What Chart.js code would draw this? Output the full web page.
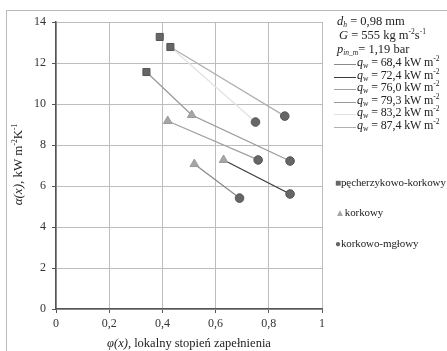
<!DOCTYPE html>
<html>
<head>
<meta charset="utf-8">
<script src="https://cdn.jsdelivr.net/npm/chart.js@4"></script>
<style>
  body { margin: 0; background: #fff; }
  #wrap { position: relative; width: 447px; height: 351px; overflow: hidden; font-family: "Liberation Serif", serif; color: #222; }
  #frame { position: absolute; left: 6px; top: 10px; width: 460px; height: 360px; border-left: 1px solid #bbb; border-top: 1px solid #bbb; }
  canvas { position: absolute; left: 0; top: 0; }
  .t { position: absolute; white-space: nowrap; font-size: 12.5px; line-height: 13px; }
  .q { position: absolute; white-space: nowrap; font-size: 12px; line-height: 12px; letter-spacing: -0.1px; }
  .seg { position: absolute; height: 0; width: 22px; }
  .m { position: absolute; white-space: nowrap; font-size: 11px; line-height: 12px; letter-spacing: -0.1px; }
  sub { font-size: 7.5px; line-height: 0; vertical-align: -2px; }
  sup { font-size: 7.5px; line-height: 0; vertical-align: 5px; }
</style>
</head>
<body>
<div id="wrap">
  <div id="frame"></div>
  <canvas id="myChart" width="447" height="351"></canvas>
  <div id="legend"></div>
  <div class="t" style="left:-45px;top:158px;width:125px;text-align:center;transform:rotate(-90deg);font-size:13px;"><i>α(x)</i>, kW m<sup>-2</sup>K<sup>-1</sup></div>
  <div class="t" style="left:56px;top:337px;width:266px;text-align:center;"><i>φ(x)</i>, lokalny stopień zapełnienia</div>
</div>
<script>
// markers
const phiSquare = [0.39, 0.43, 0.34];
const alphaSquare = [13.27, 12.78, 11.56];
const phiTriangle = [0.51, 0.42, 0.52, 0.63];
const alphaTriangle = [9.46, 9.17, 7.07, 7.27];
const phiCircle = [0.75, 0.86, 0.76, 0.88, 0.69, 0.88];
const alphaCircle = [9.12, 9.41, 7.27, 7.22, 5.41, 5.61];

// heat flux lines
const qLabels = ["68,4", "72,4", "76,0", "79,3", "83,2", "87,4"];
const qColors = ["#8a8a8a", "#3c3c3c", "#a0a0a0", "#999999", "#e2e2e2", "#b0b0b0"];
const qPhi = [
  [0.52, 0.69],
  [0.63, 0.88],
  [0.42, 0.76],
  [0.34, 0.51, 0.88],
  [0.43, 0.75],
  [0.43, 0.86]
];
const qAlpha = [
  [7.07, 5.41],
  [7.27, 5.61],
  [9.17, 7.27],
  [11.56, 9.46, 7.22],
  [12.78, 9.12],
  [12.78, 9.41]
];

const xTicks = [0, 0.2, 0.4, 0.6, 0.8, 1];
const yTicks = [0, 2, 4, 6, 8, 10, 12, 14];

const toPts = (xs, ys) => xs.map((x, i) => ({ x: x, y: ys[i] }));

const datasets = [];
qPhi.forEach((xs, i) => {
  datasets.push({
    type: "line",
    data: toPts(xs, qAlpha[i]),
    borderColor: qColors[i],
    borderWidth: 1.3,
    pointRadius: 0,
    fill: false,
    order: 2,
  });
});
datasets.push({
  data: toPts(phiSquare, alphaSquare),
  pointStyle: "rect",
  pointRadius: 5,
  backgroundColor: "#666666",
  borderColor: "#555555",
  borderWidth: 1,
  order: 1,
});
datasets.push({
  data: toPts(phiTriangle, alphaTriangle),
  pointStyle: "triangle",
  pointRadius: 5,
  backgroundColor: "#a6a6a6",
  borderColor: "#9a9a9a",
  borderWidth: 1,
  order: 1,
});
datasets.push({
  data: toPts(phiCircle, alphaCircle),
  pointStyle: "circle",
  pointRadius: 4.3,
  backgroundColor: "#666666",
  borderColor: "#555555",
  borderWidth: 1,
  order: 1,
});

const fmt = (v) => (v === 0 || v === 1 ? String(v) : v.toFixed(1).replace(".", ","));

const ctx = document.getElementById("myChart").getContext("2d");
const myChart = new Chart(ctx, {
  type: "scatter",
  data: { datasets: datasets },
  options: {
    responsive: false,
    animation: false,
    layout: { padding: { left: 0, top: 22, right: 125, bottom: 0 } },
    scales: {
      x: {
        type: "linear",
        min: 0,
        max: 1,
        afterBuildTicks: (s) => { s.ticks = xTicks.map((v) => ({ value: v })); },
        afterFit: (s) => { s.height = 42; },
        grid: { color: "#bdbdbd", tickLength: 4, tickColor: "#555" },
        border: { color: "#555", width: 1.5 },
        ticks: {
          color: "#333",
          font: { family: "Liberation Serif", size: 12 },
          callback: (v) => fmt(v),
          padding: 4,
        },
      },
      y: {
        min: 0,
        max: 14,
        afterBuildTicks: (s) => { s.ticks = yTicks.map((v) => ({ value: v })); },
        afterFit: (s) => { s.width = 56; },
        grid: { color: "#bdbdbd", tickLength: 4, tickColor: "#555" },
        border: { color: "#555", width: 1.5 },
        ticks: {
          color: "#333",
          font: { family: "Liberation Serif", size: 12 },
          padding: 6,
        },
      },
    },
    plugins: {
      legend: { display: false },
      tooltip: { enabled: false },
    },
  },
});

// legend as html text
const leg = document.getElementById("legend");
let html = "";
html += '<div class="t" style="left:337px;top:15px;"><i>d<sub>h</sub></i> = 0,98 mm</div>';
html += '<div class="t" style="left:339px;top:29px;"><i>G</i> = 555 kg m<sup>-2</sup>s<sup>-1</sup></div>';
html += '<div class="t" style="left:337px;top:43px;"><i>p<sub>in_m</sub></i>= 1,19 bar</div>';
const qTop = [56, 68.5, 81, 93.5, 106, 118.5];
qLabels.forEach((lab, i) => {
  html += '<div class="seg" style="left:334px;top:' + (qTop[i] + 8) + 'px;border-top:1.3px solid ' + qColors[i] + ';"></div>';
  html += '<div class="q" style="left:357px;top:' + qTop[i] + 'px;"><i>q</i><sub>w</sub> = ' + lab + ' kW m<sup>-2</sup></div>';
});
const markerNames = ["pęcherzykowo-korkowy", "korkowy", "korkowo-mgłowy"];
const markerSym = ["■", "▲", "●"];
const markerCol = ["#666", "#a6a6a6", "#666"];
const markerTop = [176, 206, 237];
markerNames.forEach((n, i) => {
  html += '<div class="m" style="left:335px;top:' + markerTop[i] + 'px;"><span style="color:' + markerCol[i] + ';font-size:10px;">' + markerSym[i] + '</span>' + n + '</div>';
});
leg.innerHTML = html;
</script>
</body>
</html>
